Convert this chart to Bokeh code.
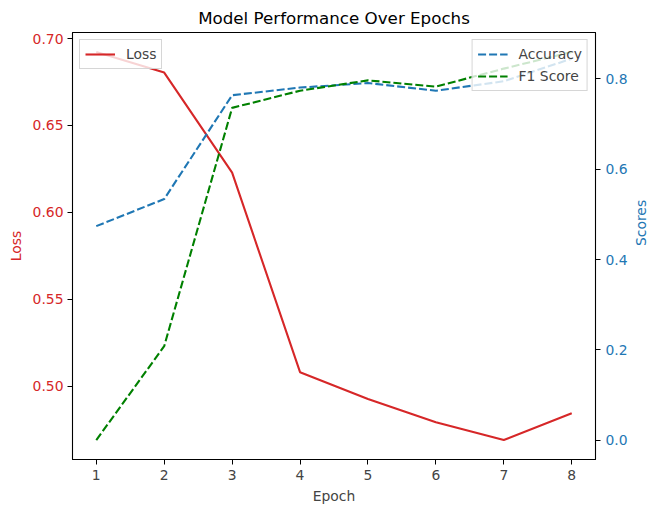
import math
from bokeh.plotting import figure
from bokeh.models import (Range1d, LinearAxis, Legend, LegendItem, FixedTicker,
                          PrintfTickFormatter)
from bokeh.embed import file_html
from bokeh.resources import INLINE

# ---- data ----
epochs = [1, 2, 3, 4, 5, 6, 7, 8]
loss = [0.6923, 0.6804, 0.6228, 0.508, 0.4926, 0.4792, 0.4689, 0.4844]
accuracy = [0.474, 0.534, 0.764, 0.781, 0.791, 0.774, 0.795, 0.845]
f1_score = [0.0, 0.208, 0.736, 0.774, 0.797, 0.783, 0.823, 0.86]
loss_ticks = [0.50, 0.55, 0.60, 0.65, 0.70]
score_ticks = [0.0, 0.2, 0.4, 0.6, 0.8]

RED = "#d62728"
BLUE = "#1f77b4"
GREEN = "#008000"
FONT = "DejaVu Sans"
TICK_SIZE = "13.9px"


def padded(vals, frac=0.05):
    lo, hi = min(vals), max(vals)
    d = (hi - lo) * frac
    return lo - d, hi + d


xlo, xhi = padded(epochs)
llo, lhi = padded(loss)
slo, shi = padded(accuracy + f1_score)

p = figure(frame_width=523, frame_height=427, output_backend="svg", toolbar_location=None,
           x_range=Range1d(xlo, xhi), y_range=Range1d(llo, lhi),
           min_border_left=72, min_border_right=50, min_border_top=31,
           min_border_bottom=40)
p.extra_y_ranges = {"scores": Range1d(slo, shi)}

p.title.text = "Model Performance Over Epochs"
p.title.align = "center"
p.title.text_font = FONT
p.title.text_font_size = "16.7px"
p.title.text_font_style = "normal"
p.title.text_color = "black"

p.xgrid.visible = False
p.ygrid.visible = False
p.outline_line_color = "black"
p.outline_line_width = 1.1
p.background_fill_color = "white"
p.border_fill_color = "white"

# x axis
xa = p.xaxis[0]
xa.ticker = FixedTicker(ticks=epochs)
xa.axis_label = "Epoch"
xa.axis_label_text_font = FONT
xa.axis_label_text_font_size = TICK_SIZE
xa.axis_label_text_font_style = "normal"
xa.major_label_text_font = FONT
xa.major_label_text_font_size = TICK_SIZE
xa.minor_tick_line_color = None
xa.major_tick_out = 5
xa.major_tick_in = 0
xa.axis_label_standoff = 5
xa.major_label_standoff = 5

# left axis
ya = p.yaxis[0]
ya.ticker = FixedTicker(ticks=loss_ticks)
ya.formatter = PrintfTickFormatter(format="%.2f")
ya.axis_label = "Loss"
ya.axis_label_text_color = RED
ya.major_label_text_color = RED

# right axis
ra = LinearAxis(y_range_name="scores", ticker=FixedTicker(ticks=score_ticks),
                formatter=PrintfTickFormatter(format="%.1f"), axis_label="Scores")
ra.axis_label_text_color = BLUE
ra.major_label_text_color = BLUE
ra.axis_label_orientation = math.pi / 2
p.add_layout(ra, "right")

for ax in [ya, ra]:
    ax.axis_label_text_font = FONT
    ax.axis_label_text_font_size = TICK_SIZE
    ax.axis_label_text_font_style = "normal"
    ax.major_label_text_font = FONT
    ax.major_label_text_font_size = TICK_SIZE
    ax.minor_tick_line_color = None
    ax.major_tick_out = 5
    ax.major_tick_in = 0
    ax.major_label_standoff = 4
ya.axis_label_standoff = 6
ra.axis_label_standoff = 10
ra.major_label_standoff = 5

r_loss = p.line(epochs, loss, line_color=RED, line_width=2.1)
r_acc = p.line(epochs, accuracy, line_color=BLUE, line_width=2.1,
               line_dash="8 3", y_range_name="scores")
r_f1 = p.line(epochs, f1_score, line_color=GREEN, line_width=2.1,
              line_dash="8 3", y_range_name="scores")


def style_legend(lg):
    lg.label_text_font = FONT
    lg.label_text_font_size = TICK_SIZE
    lg.background_fill_alpha = 0.8
    lg.border_line_color = "#cccccc"
    lg.border_line_alpha = 0.8
    lg.margin = 7
    lg.padding = 5
    lg.spacing = 4
    lg.glyph_width = 30
    lg.glyph_height = 18
    lg.label_standoff = 11
    lg.label_height = 18


leg1 = Legend(items=[LegendItem(label="Loss", renderers=[r_loss])], location="top_left")
leg2 = Legend(items=[LegendItem(label="Accuracy", renderers=[r_acc]),
                     LegendItem(label="F1 Score", renderers=[r_f1])], location="top_right")
style_legend(leg1)
style_legend(leg2)
p.add_layout(leg1, "center")
p.add_layout(leg2, "center")

open("out.html", "w").write(file_html(p, INLINE))
